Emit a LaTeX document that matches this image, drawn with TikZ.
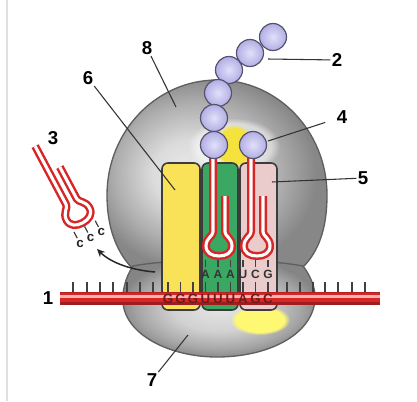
\documentclass[tikz,border=0pt]{standalone}
\usepackage{fontspec}
\setmainfont{Liberation Sans}
\usetikzlibrary{arrows.meta,fadings}

\definecolor{subedge}{RGB}{95,95,95}
\definecolor{strandred}{RGB}{214,38,38}
\definecolor{strandpink}{RGB}{245,180,180}
\definecolor{beadfill}{RGB}{178,174,228}
\definecolor{beadlight}{RGB}{226,224,250}
\definecolor{beadedge}{RGB}{85,82,110}
\definecolor{boxyellow}{RGB}{250,226,88}
\definecolor{boxgreen}{RGB}{58,168,98}
\definecolor{boxpink}{RGB}{234,204,204}
\definecolor{boxedge}{RGB}{60,60,60}
\definecolor{codonred}{RGB}{105,28,28}
\definecolor{glowyellow}{RGB}{246,226,60}

% grey shading of the two subunits
\pgfdeclareradialshading{bigsub}{\pgfpoint{-7bp}{0bp}}{color(0bp)=(black!8); color(9bp)=(black!14); color(19bp)=(black!32); color(26bp)=(black!47); color(50bp)=(black!47)}
\pgfdeclareradialshading{smallsub}{\pgfpoint{0bp}{0bp}}{color(0bp)=(black!10); color(12bp)=(black!18); color(21bp)=(black!35); color(26bp)=(black!48); color(50bp)=(black!48)}

\tikzset{every picture/.style={line width=0.75pt}}
\tikzset{
  subunit/.style={draw=subedge, line width=1},
  trnabox/.style={draw=boxedge, line width=1.2, rounded corners=4.5pt},
  tube/.style={draw=white, line width=2.3pt, line join=round,
    preaction={draw=strandred, line width=6pt, line join=round}},
  bead/.style={draw=beadedge, line width=0.9, inner color=beadlight, outer color=beadfill},
  tick/.style={draw=black!75, line width=0.9},
  codon/.style={text=codonred, font=\fontsize{10}{12}\selectfont\bfseries, inner sep=0.75pt},
  anticodon/.style={text=black!80, font=\fontsize{9}{11}\selectfont\bfseries, inner sep=0.75pt},
  lbl/.style={font=\fontsize{14}{16}\selectfont\bfseries, inner sep=0.75pt},
  leader/.style={draw=black!80, line width=0.8},
  glow/.style={path fading=circle with fuzzy edge 20 percent},
}

\begin{document}
\begin{tikzpicture}[x=0.75pt,y=0.75pt,yscale=-1,xscale=1]
\useasboundingbox (0,0) rectangle (417,401);

%Straight Lines: frame on the left
\draw [color=black!12, line width=1] (7,0) -- (7,401);

%Shape: large subunit
\shadedraw [subunit, shading=bigsub] (132,268) .. controls (115,250) and (107,225) .. (107,195) .. controls (107,131.5) and (156.25,80) .. (217,80) .. controls (277.75,80) and (327,131.5) .. (327,195) .. controls (327,230) and (318,252) .. (303,267) -- cycle ;
%Shape: glow round the last amino acids
\fill [white, opacity=0.5, glow] (234,146) ellipse (46 and 28);
\fill [glowyellow, glow] (234,146) ellipse (20 and 22);

%Shape: small subunit
\shadedraw [subunit, shading=smallsub] (133,266) .. controls (125,278) and (122,292) .. (123,303) .. controls (126,335) and (170,357) .. (217,357) .. controls (268,357) and (312,335) .. (315,300) .. controls (316,288) and (310,275) .. (303,266) .. controls (260,258) and (175,258) .. (133,266) -- cycle ;
\fill [yellow!55, glow] (260,320) ellipse (30 and 15);

%Shape: tRNA boxes
\draw [trnabox, fill=boxyellow] (162,163) rectangle (200,310) ;
\draw [trnabox, fill=boxgreen] (202,163) rectangle (238,310) ;
\draw [trnabox, fill=boxpink] (240,163) rectangle (277,310) ;

%Curve Lines: hairpins of the bound tRNAs
\foreach \dx in {0,38}{
  \begin{scope}[shift={(\dx,0)}]
  \draw [tube] (213,156) -- (213,232) .. controls (213,236) and (206,238) .. (206,246) .. controls (206,253) and (212,256) .. (219,256) .. controls (226,256) and (232,253) .. (232,246) .. controls (232,238) and (225,236) .. (225,232) -- (225,196) ;
  \end{scope}
}
\foreach \x in {205.5,218,230.5,243,255.5,268}
  \draw [tick] (\x,260) -- (\x,267) ;

%Shape: amino acid chain
\foreach \cx/\cy in {273/37,250/53,229/70,218/93,214/118,214/145,253/145}
  \shadedraw [bead] (\cx,\cy) circle (13.5) ;

%Shape: mRNA
\fill [strandred!85!black] (60,292) rectangle (380,305) ;
\fill [strandred] (60,293) rectangle (380,303) ;
\fill [strandpink] (60,294.5) rectangle (380,297.5) ;
\fill [strandred!75!black] (60,302) rectangle (380,305) ;
\foreach \x in {73,87,100,113,127,140,153,168,180.5,193,205.5,218,230.5,243,255.5,268,287,300,313,325,338,352,365}
  \draw [tick] (\x,282) -- (\x,292) ;

% Text Node: codons and anticodons
\foreach \x/\b in {168/G,180.5/G,193/G,205.5/U,218/U,230.5/U,243/A,255.5/G,268/C}
  \node [codon] at (\x,298.5) {\b};
\foreach \x/\b in {205.5/A,218/A,230.5/A,243/U,255.5/C,268/G}
  \node [anticodon] at (\x,274) {\b};

%Curve Lines: free tRNA
\begin{scope}[shift={(78,214)}, rotate=-28]
\draw [tube] (-6,-80) -- (-6,-14) .. controls (-6,-10) and (-13,-8) .. (-13,0) .. controls (-13,7) and (-7,10) .. (0,10) .. controls (7,10) and (13,7) .. (13,0) .. controls (13,-8) and (6,-10) .. (6,-14) -- (6,-50) ;
\foreach \x in {-12,0,12}
  \draw [tick] (\x,14) -- (\x,21) ;
\node [anticodon, text=black!85, font=\fontsize{10}{12}\selectfont\bfseries] (c1) at (-12,27) {c};
\node [anticodon, text=black!85, font=\fontsize{10}{12}\selectfont\bfseries] (c2) at (0,27) {c};
\node [anticodon, text=black!85, font=\fontsize{10}{12}\selectfont\bfseries] (c3) at (12,27) {c};
\end{scope}

%Curve Lines: release arrow
\coordinate (exitsite) at (155,272);
\coordinate (arrowhead) at (97,249);
\draw [color=black!85, line width=1.1, -{Stealth[length=6pt,width=5.5pt]}] (exitsite) .. controls (130,270) and (110,262) .. (arrowhead) ;

% Text Node: numbers
\node [lbl] (n1) at (48,298) {1};
\node [lbl] (n2) at (337,60) {2};
\node [lbl] (n3) at (53,138) {3};
\node [lbl] (n4) at (342,117) {4};
\node [lbl] (n5) at (363,178) {5};
\node [lbl] (n6) at (88,78) {6};
\node [lbl] (n7) at (152,380) {7};
\node [lbl] (n8) at (147,48) {8};

%Straight Lines: leaders
\coordinate (tip2) at (268,59);
\coordinate (tip4) at (268,141);
\coordinate (tip5) at (272,182);
\coordinate (tip6) at (175,190);
\coordinate (tip7) at (188,335);
\coordinate (tip8) at (176,107);
\draw [leader] (tip2) -- (n2) ;
\draw [leader, shorten >=8pt] (tip4) -- (n4) ;
\draw [leader] (tip5) -- (n5) ;
\draw [leader] (tip6) -- (n6) ;
\draw [leader] (tip7) -- (n7) ;
\draw [leader] (tip8) -- (n8) ;

\end{tikzpicture}
\end{document}
